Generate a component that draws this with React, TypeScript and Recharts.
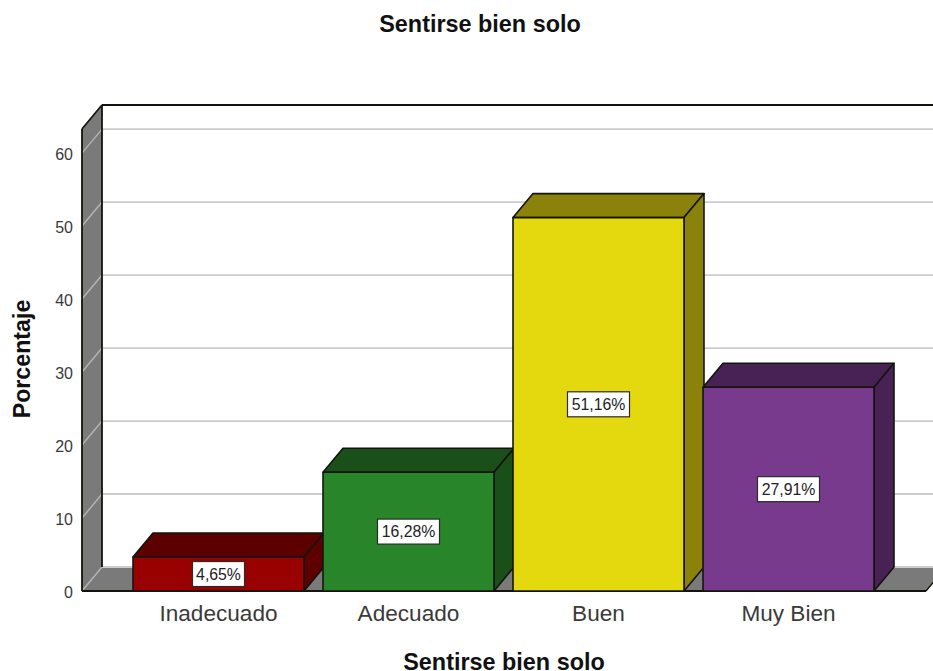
import React from "react";
import { BarChart, Bar, XAxis, YAxis, CartesianGrid, LabelList, Cell } from "recharts";

const categories = ["Inadecuado", "Adecuado", "Buen", "Muy Bien"];
const percentages = [4.65, 16.28, 51.16, 27.91];
const frontColors = ["#990000", "#298529", "#e4d80f", "#783a8c"];
const sideColors = ["#5c0000", "#1a4f1a", "#8a820a", "#482254"];
const yTicks = [0, 10, 20, 30, 40, 50, 60];
const title = "Sentirse bien solo";
const xTitle = "Sentirse bien solo";
const yTitle = "Porcentaje";

const rows = categories.map((name, i) => ({
  name,
  value: percentages[i],
  front: frontColors[i],
  side: sideColors[i],
}));

const DX = 20;
const DY = -24;
const INK = "#14140f";
const WALL = "#7a7a7a";
const FONT = "'Liberation Sans', Arial, sans-serif";

const Box3D = (props: any) => {
  const { x, y, width, height, payload } = props;
  const r = x + width;
  const b = y + height;
  return (
    <g stroke={INK} strokeWidth={1.6} strokeLinejoin="round">
      <polygon points={`${x},${y} ${x + DX},${y + DY} ${r + DX},${y + DY} ${r},${y}`} fill={payload.side} />
      <polygon points={`${r},${y} ${r + DX},${y + DY} ${r + DX},${b + DY} ${r},${b}`} fill={payload.side} />
      <rect x={x} y={y} width={width} height={height} fill={payload.front} />
    </g>
  );
};

const ValueTag = (props: any) => {
  const { x, y, width, height, value } = props;
  const text = `${Number(value).toFixed(2).replace(".", ",")}%`;
  const w = text.length * 10 + 2;
  const h = 25;
  const cx = x + width / 2;
  const cy = y + height / 2;
  return (
    <g>
      <rect x={cx - w / 2} y={cy - h / 2} width={w} height={h} fill="#ffffff" stroke="#2b2b2b" strokeWidth={1.2} />
      <text x={cx} y={cy + 5.5} textAnchor="middle" fontFamily={FONT} fontSize={15.8} fill="#222222">
        {text}
      </text>
    </g>
  );
};

const wallShape = (props: any) => {
  const { index, x, y, width, height } = props;
  if (index !== 0) return <g key={`wall-${index}`} />;
  const l = x;
  const t = y;
  const f = y + height;
  const r = x + width;
  return (
    <g key="wall">
      <polygon points={`${l},${f} ${l},${t} ${l + DX},${t + DY} ${l + DX},${f + DY}`} fill={WALL} />
      <polygon points={`${l},${f} ${l + DX},${f + DY} ${r + DX},${f + DY} ${r},${f}`} fill={WALL} />
    </g>
  );
};

const gridShape = (props: any) => {
  const { x1, x2, y1, index } = props;
  return (
    <g key={`grid-${index}`}>
      <line x1={x1} y1={y1} x2={x1 + DX} y2={y1 + DY} stroke="#b4b4b4" strokeWidth={1.4} />
      <line x1={x1 + DX} y1={y1 + DY} x2={x2 + DX} y2={y1 + DY} stroke="#cccccc" strokeWidth={1.8} />
    </g>
  );
};

const edgeShape = (props: any) => {
  const { index, x, y, width, height } = props;
  if (index !== 0) return <g key={`edge-${index}`} />;
  const l = x;
  const t = y;
  const f = y + height;
  const r = x + width;
  return (
    <g key="edge" stroke={INK} fill="none">
      <line x1={l + DX} y1={t + DY} x2={l + DX} y2={f + DY} strokeWidth={1.8} />
      <line x1={l + DX} y1={t + DY} x2={r + DX} y2={t + DY} strokeWidth={1.8} />
      <line x1={l} y1={t} x2={l + DX} y2={t + DY} strokeWidth={1.8} />
      <line x1={l} y1={t} x2={l} y2={f} strokeWidth={1.8} />
      <line x1={l} y1={f} x2={r} y2={f} strokeWidth={1.8} />
      <line x1={r} y1={f} x2={r + DX} y2={f + DY} strokeWidth={1.4} />
    </g>
  );
};

export default function App() {
  return (
    <div style={{ position: "absolute", left: 0, top: 0, width: 933, height: 671, overflow: "hidden", background: "#fff" }}>
      <BarChart
        width={933}
        height={671}
        data={rows}
        margin={{ top: 129, right: 7, bottom: 0, left: 0 }}
        barCategoryGap="5%"
      >
        <text x={480} y={32} textAnchor="middle" fontFamily={FONT} fontSize={23.4} fontWeight="bold" fill="#111">
          {title}
        </text>
        <CartesianGrid vertical={false} horizontal={wallShape} />
        <CartesianGrid vertical={false} horizontal={gridShape} />
        <CartesianGrid vertical={false} horizontal={edgeShape} />
        <XAxis
          dataKey="name"
          height={80}
          padding={{ left: 41.5, right: 42.5 }}
          axisLine={false}
          tickLine={false}
          tickMargin={8}
          tick={{ fontFamily: FONT, fontSize: 22.6, fill: "#3a3a3a" }}
          label={{ value: xTitle, position: "insideBottom", offset: 1, style: { fontFamily: FONT, fontSize: 23.4, fontWeight: "bold", fill: "#111" } }}
        />
        <YAxis
          width={82}
          domain={[0, 63.3]}
          ticks={yTicks}
          interval={0}
          axisLine={false}
          tickLine={false}
          tickMargin={3}
          tick={{ fontFamily: FONT, fontSize: 16, fill: "#3a3a3a", dy: 1 }}
          label={{ value: yTitle, angle: -90, position: "insideLeft", offset: 22, dy: -1, style: { fontFamily: FONT, fontSize: 23.2, fontWeight: "bold", fill: "#111", textAnchor: "middle" } }}
        />
        <Bar dataKey="value" isAnimationActive={false} shape={Box3D}>
          {rows.map((r) => (
            <Cell key={r.name} fill={r.front} />
          ))}
          <LabelList dataKey="value" content={ValueTag} />
        </Bar>
      </BarChart>
    </div>
  );
}
